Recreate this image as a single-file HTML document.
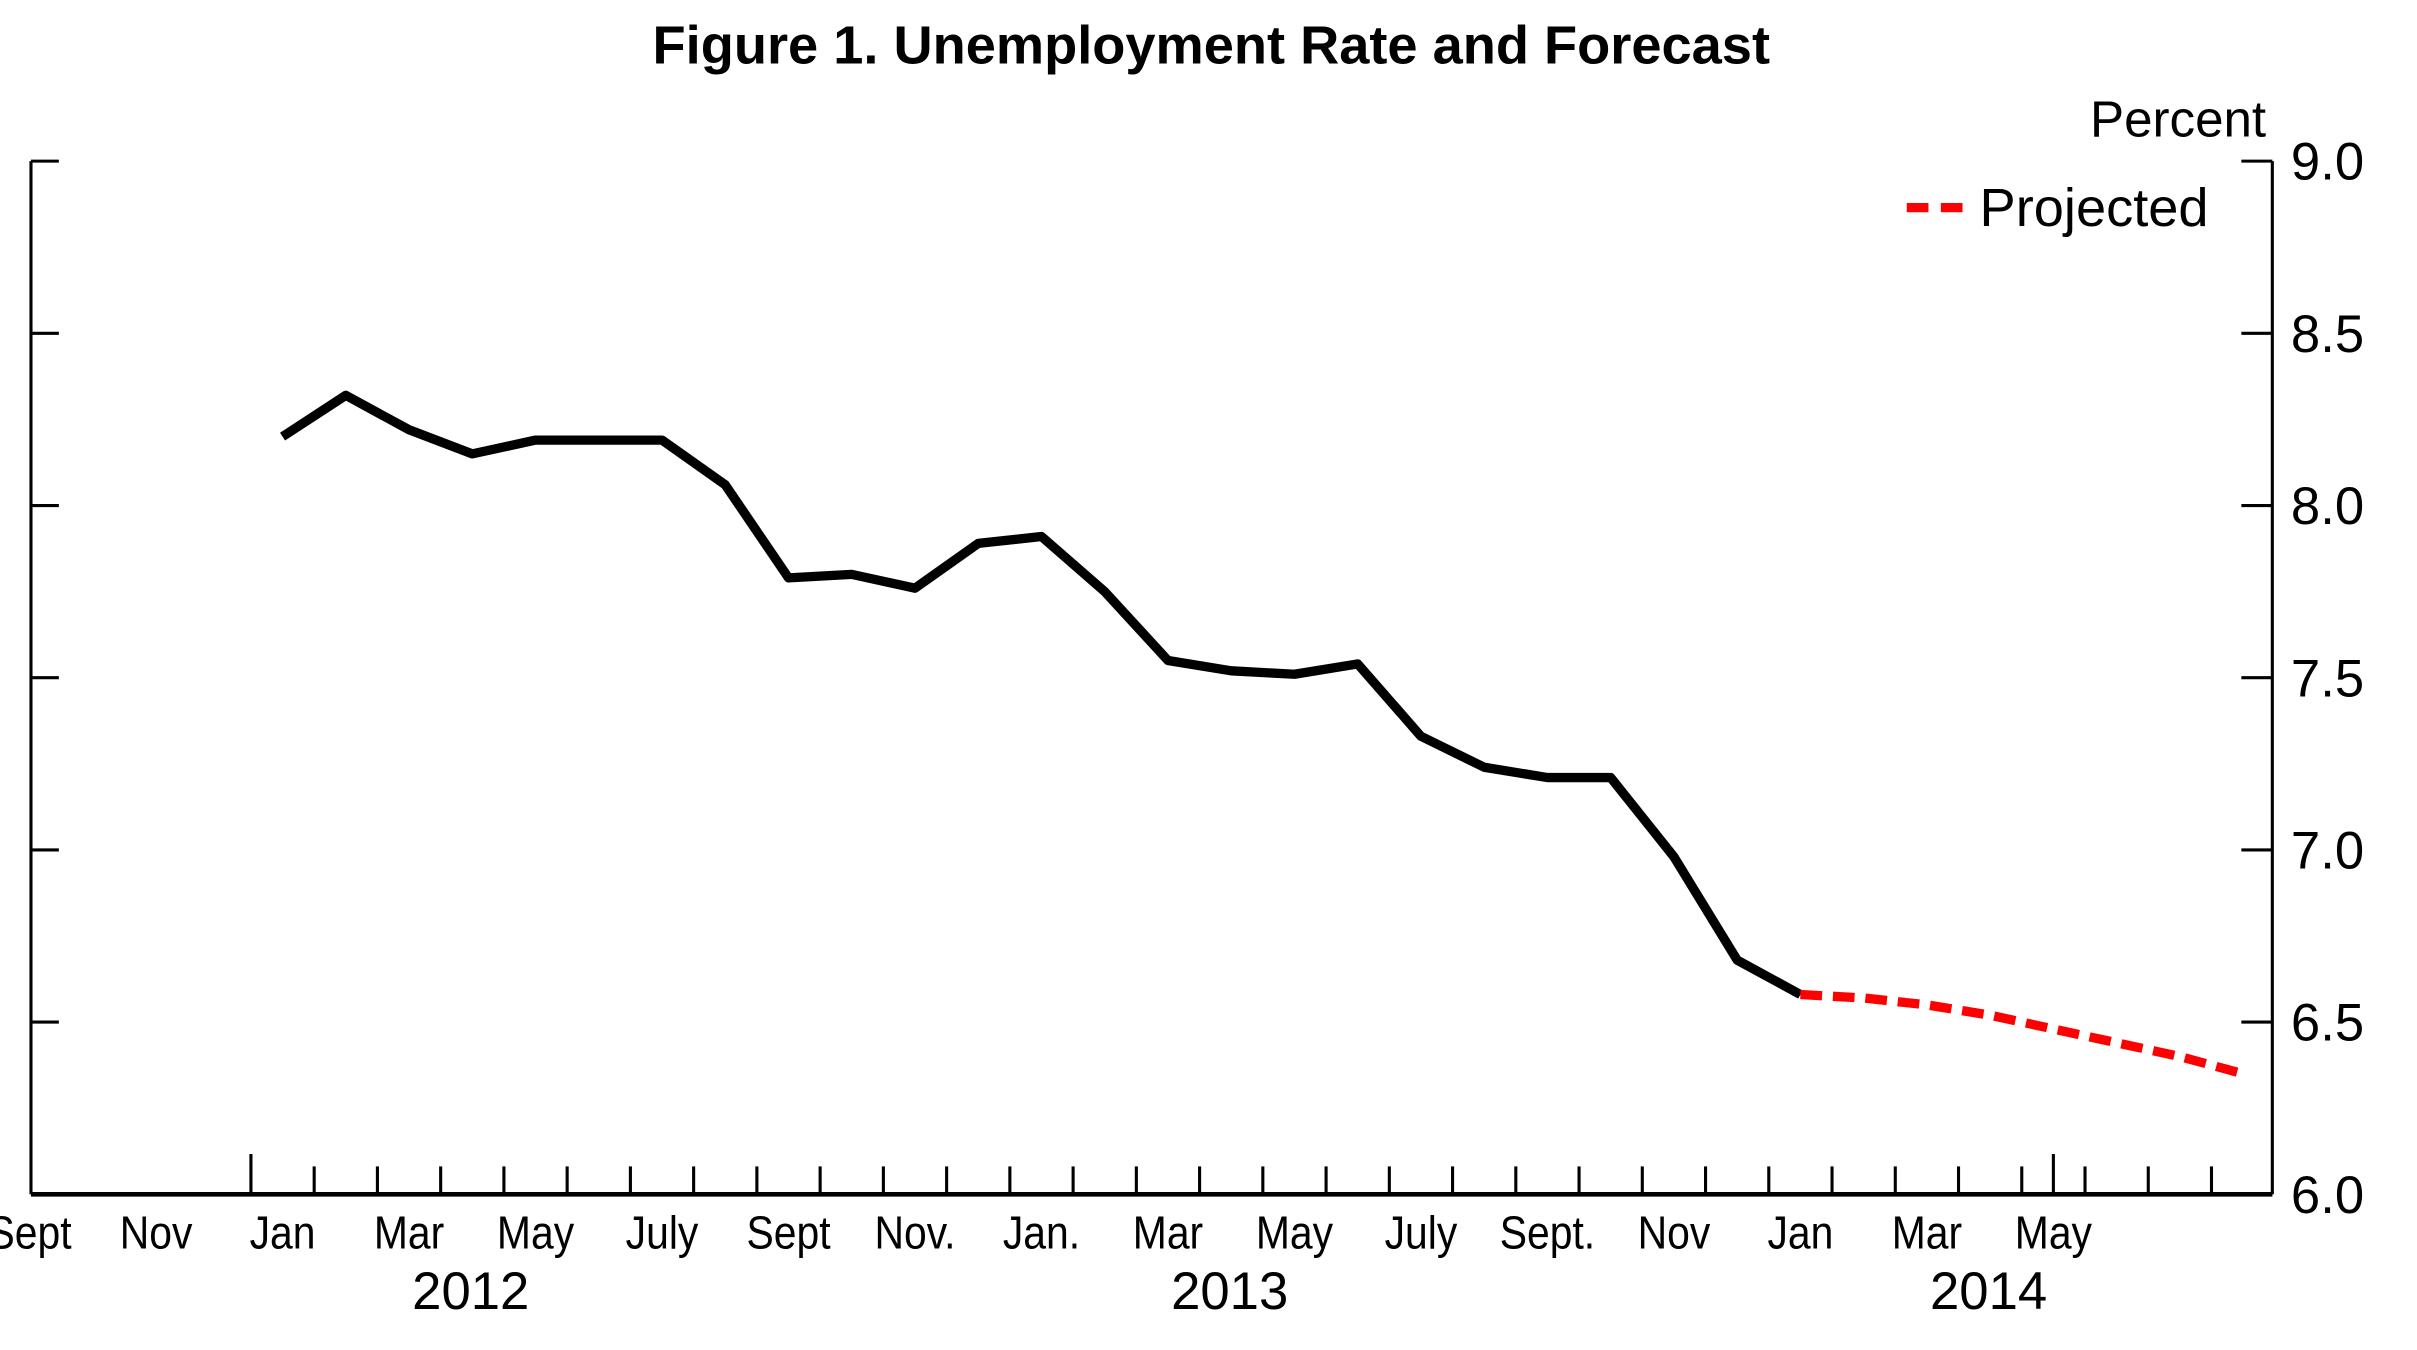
<!DOCTYPE html>
<html><head><meta charset="utf-8"><style>
html,body{margin:0;padding:0;background:#fff}
svg{display:block}
text{font-family:"Liberation Sans",Arial,sans-serif;fill:#000}
</style></head><body>
<svg id="chart" width="2417" height="1350" viewBox="0 0 1560.4 871.5" xmlns="http://www.w3.org/2000/svg">
<text x="782" y="41" text-anchor="middle" font-size="35" font-weight="bold">Figure 1. Unemployment Rate and Forecast</text>
<text x="1463" y="88" text-anchor="end" font-size="33">Percent</text>
<g id="axes"></g>
<g id="marks"></g>
<g>
<line x1="1231" y1="134" x2="1267" y2="134" stroke="#f00" stroke-width="6" stroke-dasharray="14,8"/>
<text x="1278" y="146" font-size="35">Projected</text>
</g>
</svg>
<script>
const actual = [8.2,8.32,8.22,8.15,8.19,8.19,8.19,8.06,7.79,7.8,7.76,7.89,7.91,7.75,7.55,7.52,7.51,7.54,7.33,7.24,7.21,7.21,6.98,6.68,6.58];
const projected = [6.58,6.57,6.55,6.52,6.48,6.44,6.40,6.35];
const projStart = 24;
const monthLabels = ["Sept","Nov","Jan","Mar","May","July","Sept","Nov.","Jan.","Mar","May","July","Sept.","Nov","Jan","Mar","May"];
const labelStart = -4;
const yearLabels = ["2012","2013","2014"];
const yTicks = [6.0,6.5,7.0,7.5,8.0,8.5,9.0];

const NS="http://www.w3.org/2000/svg";
const X0=162, MW=40.83, XL=20, XR=1467, YT=104, YB=771;
const xB=k=>X0+MW*k;
const xM=i=>X0+MW*(i+0.5);
const y=v=>YB-(v-6)/3*(YB-YT);
const axes=document.getElementById('axes'), marks=document.getElementById('marks');
function mk(tag,attrs,parent){const e=document.createElementNS(NS,tag);for(const k in attrs)e.setAttribute(k,attrs[k]);parent.appendChild(e);return e;}

let e;
e=mk('line',{x1:XL,y1:YT,x2:XL,y2:YB,stroke:'#000','stroke-width':2},axes);


e=mk('line',{x1:XR,y1:YT,x2:XR,y2:YB,stroke:'#000','stroke-width':2},axes);


e=mk('line',{x1:XL,y1:YB,x2:XR,y2:YB,stroke:'#000','stroke-width':3},axes);


yTicks.forEach(v=>{
  let t=mk('line',{x1:XR-20,y1:y(v),x2:XR,y2:y(v),stroke:'#000','stroke-width':2},axes);
  
  
  let l=mk('text',{x:XR+12,y:y(v)+12,'font-size':34},axes);
  l.textContent=v.toFixed(1);
  
  
  let t2=mk('line',{x1:XL,y1:y(v),x2:XL+18,y2:y(v),stroke:'#000','stroke-width':2},axes);
  
  
});
for(let k=0;k<=31;k++){
  let t=mk('line',{x1:xB(k),y1:YB,x2:xB(k),y2:YB-(k===0?26:18),stroke:'#000','stroke-width':2},axes);
  
  
}
e=mk('line',{x1:xB(28.5),y1:YB,x2:xB(28.5),y2:YB-26,stroke:'#000','stroke-width':2},axes);


monthLabels.forEach((m,j)=>{
  const i=labelStart+2*j;
  let l=mk('text',{transform:`translate(${xM(i)},806) scale(0.88,1)`,'text-anchor':'middle','font-size':30},axes);
  l.textContent=m;
  
  
});
yearLabels.forEach((yr,j)=>{
  let l=mk('text',{x:xB(12*j+3.5)-1,y:845,'text-anchor':'middle','font-size':34},axes);
  l.textContent=yr;
  
  
});
e=mk('polyline',{points:actual.map((v,i)=>xM(i)+','+y(v)).join(' '),fill:'none',stroke:'#000','stroke-width':6,'stroke-linejoin':'round'},marks);


e=mk('polyline',{points:projected.map((v,i)=>xM(projStart+i)+','+y(v)).join(' '),fill:'none',stroke:'#f00','stroke-width':6,'stroke-dasharray':'14,7'},marks);


</script>
</body></html>
